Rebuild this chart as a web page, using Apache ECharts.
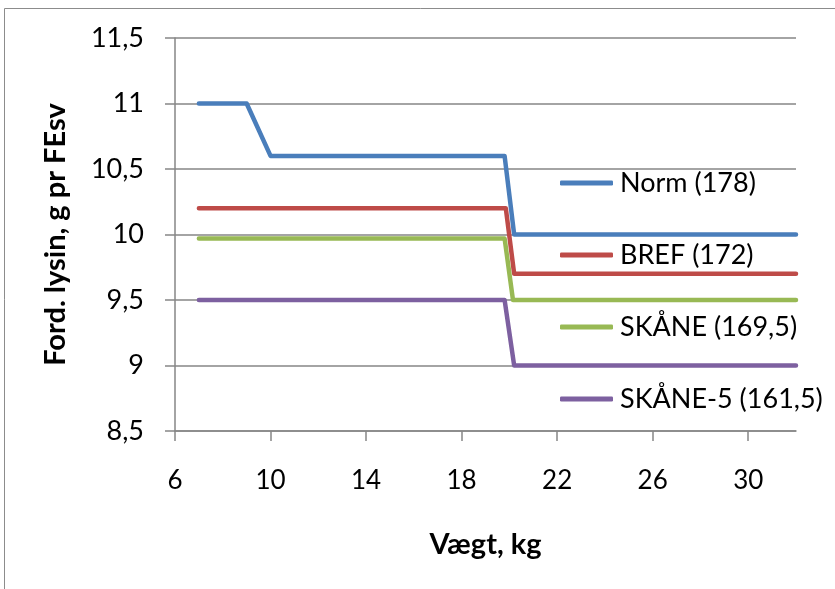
<!DOCTYPE html>
<html><head><meta charset="utf-8">
<script src="https://cdn.jsdelivr.net/npm/echarts@6/dist/echarts.min.js"></script>
<style>html,body{margin:0;padding:0;background:#fff}#c{width:835px;height:589px}</style>
</head><body><div id="c"></div>
<script>
const seriesNames = ['Norm (178)', 'BREF (172)', 'SKÅNE (169,5)', 'SKÅNE-5 (161,5)'];
const normX = [7, 9, 10, 19.8, 20.2, 32];
const normY = [11, 11, 10.6, 10.6, 10, 10];
const brefX = [7, 19.85, 20.2, 32];
const brefY = [10.2, 10.2, 9.7, 9.7];
const skaneX = [7, 19.8, 20.15, 32];
const skaneY = [9.97, 9.97, 9.5, 9.5];
const skane5X = [7, 19.8, 20.2, 32];
const skane5Y = [9.5, 9.5, 9, 9];
const xTicks = [6, 10, 14, 18, 22, 26, 30];
const yTicks = [8.5, 9, 9.5, 10, 10.5, 11, 11.5];
const colors = ['#4A7EBB', '#BE4B48', '#98B954', '#7D60A0'];

const pairs = (xs, ys) => xs.map((x, i) => [x, ys[i]]);
const allData = [pairs(normX, normY), pairs(brefX, brefY), pairs(skaneX, skaneY), pairs(skane5X, skane5Y)];
const FONT = 'Lato';

const chart = echarts.init(document.getElementById('c'), null, {renderer: 'canvas'});
chart.setOption({
  animation: false,
  color: colors,
  textStyle: {fontFamily: FONT},
  graphic: [{type: 'rect', shape: {x: 4.5, y: 8.5, width: 900, height: 700}, style: {fill: 'none', stroke: '#8c8c8c', lineWidth: 1}}],
  grid: {left: 175, right: 39, top: 38, bottom: 158},
  legend: {
    orient: 'vertical', left: 555, top: 163, itemGap: 42,
    itemWidth: 53, itemHeight: 5, icon: 'roundRect',
    textStyle: {fontFamily: FONT, fontSize: 27, color: '#000', lineHeight: 30, padding: [0, 0, 0, 2]},
    data: seriesNames
  },
  xAxis: {
    type: 'value', min: 6, max: 32,
    name: 'Vægt, kg', nameLocation: 'middle', nameGap: 99,
    nameTextStyle: {fontFamily: FONT, fontSize: 29, fontWeight: 'bold', color: '#000'},
    axisLine: {show: true, lineStyle: {color: '#868686', width: 1.5}},
    axisTick: {show: true, length: 10, customValues: xTicks, lineStyle: {color: '#868686', width: 1.5}},
    axisLabel: {customValues: xTicks, margin: 37, fontFamily: FONT, fontSize: 26, color: '#000'},
    splitLine: {show: false}
  },
  yAxis: {
    type: 'value', min: 8.5, max: 11.5, interval: 0.5,
    name: 'Ford. lysin, g pr FEsv', nameLocation: 'middle', nameGap: 105,
    nameTextStyle: {fontFamily: FONT, fontSize: 29, fontWeight: 'bold', color: '#000'},
    axisLine: {show: true, lineStyle: {color: '#868686', width: 1.5}},
    axisTick: {show: true, length: 10, lineStyle: {color: '#868686', width: 1.5}},
    axisLabel: {margin: 31, fontFamily: FONT, fontSize: 27, color: '#000',
      formatter: v => String(v).replace('.', ',')},
    splitLine: {show: true, lineStyle: {color: '#868686', width: 1.5}}
  },
  series: seriesNames.map((n, i) => ({
    name: n, type: 'line', data: allData[i], showSymbol: false, symbol: 'none',
    lineStyle: {width: 4.5, color: colors[i], cap: 'round', join: 'round'},
    itemStyle: {color: colors[i]}
  }))
});
</script></body></html>
